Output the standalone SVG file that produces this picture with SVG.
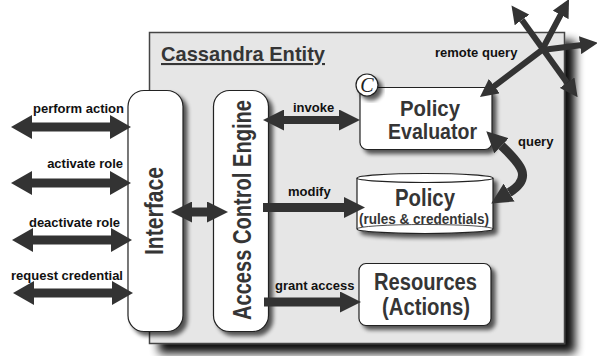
<svg xmlns="http://www.w3.org/2000/svg" width="597" height="356" viewBox="0 0 597 356">
<style>
.lbl{font-family:"Liberation Sans",Arial,sans-serif;font-weight:bold;font-size:13px;fill:#111}
.nt{font-family:"Liberation Sans",Arial,sans-serif;font-weight:bold;fill:#353535}
.box{fill:#fff;stroke:#222;stroke-width:1.2}
.arr{stroke:#333;fill:none}
</style>
<defs>
<filter id="bigsh" x="-10%" y="-10%" width="130%" height="130%">
<feGaussianBlur in="SourceAlpha" stdDeviation="5"/>
<feOffset dx="10" dy="9"/>
<feComponentTransfer><feFuncA type="linear" slope="0.95"/></feComponentTransfer>
<feMerge><feMergeNode/><feMergeNode in="SourceGraphic"/></feMerge>
</filter>
<filter id="sh" x="-20%" y="-20%" width="150%" height="150%">
<feGaussianBlur in="SourceAlpha" stdDeviation="2"/>
<feOffset dx="4" dy="4"/>
<feComponentTransfer><feFuncA type="linear" slope="0.65"/></feComponentTransfer>
<feMerge><feMergeNode/><feMergeNode in="SourceGraphic"/></feMerge>
</filter>
<marker id="ahL" viewBox="0 0 21 24" refX="0" refY="12" markerWidth="21" markerHeight="24" markerUnits="userSpaceOnUse" orient="auto-start-reverse"><path d="M0,0 L21,12 L0,24 z" fill="#333"/></marker>
<marker id="ahM" viewBox="0 0 21 21" refX="0" refY="10.5" markerWidth="21" markerHeight="21" markerUnits="userSpaceOnUse" orient="auto-start-reverse"><path d="M0,0 L21,10.5 L0,21 z" fill="#333"/></marker>
<marker id="ahS" viewBox="0 0 18 18" refX="0" refY="9" markerWidth="18" markerHeight="18" markerUnits="userSpaceOnUse" orient="auto-start-reverse"><path d="M0,0 L18,9 L0,18 z" fill="#333"/></marker>
</defs>

<g id="entity">
<rect x="149.5" y="32.5" width="415" height="311" fill="#e6e6e6" stroke="#444" stroke-width="1.5" filter="url(#bigsh)"/>
<text x="161" y="61" class="nt" font-size="21" textLength="164" lengthAdjust="spacingAndGlyphs" text-decoration="underline">Cassandra Entity</text>
</g>

<g id="interface">
<rect class="box" x="128" y="90.5" width="55" height="241" rx="16" filter="url(#sh)"/>
<text class="nt" font-size="25" text-anchor="middle" textLength="88" lengthAdjust="spacingAndGlyphs" transform="translate(163,211) rotate(-90)">Interface</text>
</g>

<g id="ace">
<rect class="box" x="213.5" y="90.5" width="55" height="241" rx="16" filter="url(#sh)"/>
<text class="nt" font-size="25" text-anchor="middle" textLength="220" lengthAdjust="spacingAndGlyphs" transform="translate(251,210) rotate(-90)">Access Control Engine</text>
</g>

<g id="policy-evaluator">
<rect class="box" x="360" y="87.5" width="132" height="62" rx="7" filter="url(#sh)"/>
<text class="nt" x="430" y="116" font-size="22" text-anchor="middle" textLength="60" lengthAdjust="spacingAndGlyphs">Policy</text>
<text class="nt" x="432.5" y="139" font-size="22" text-anchor="middle" textLength="89" lengthAdjust="spacingAndGlyphs">Evaluator</text>
<circle cx="367" cy="85" r="11" fill="#fff" stroke="#222" stroke-width="1.2" filter="url(#sh)"/>
<text x="367" y="92" font-family="Liberation Serif,serif" font-style="italic" font-size="20" text-anchor="middle" fill="#222">C</text>
</g>

<g id="policy">
<path d="M357,178 L357,229 A68,4.5 0 0 0 493,229 L493,178 A68,4.5 0 0 0 357,178 Z" class="box" filter="url(#sh)"/>
<path d="M357,178 A68,4.5 0 0 0 493,178" fill="none" stroke="#222" stroke-width="1.2"/>
<path d="M357,229 A68,4.5 0 0 1 493,229" fill="none" stroke="#222" stroke-width="0.8"/>
<text class="nt" x="425" y="206" font-size="24" text-anchor="middle" textLength="60" lengthAdjust="spacingAndGlyphs">Policy</text>
<text class="nt" x="424" y="224" font-size="14" text-anchor="middle" textLength="130" lengthAdjust="spacingAndGlyphs">(rules &amp; credentials)</text>
</g>

<g id="resources">
<rect class="box" x="359" y="263.5" width="132" height="62" rx="7" filter="url(#sh)"/>
<text class="nt" x="425.5" y="290" font-size="23" text-anchor="middle" textLength="103" lengthAdjust="spacingAndGlyphs">Resources</text>
<text class="nt" x="426" y="315" font-size="23" text-anchor="middle" textLength="88" lengthAdjust="spacingAndGlyphs">(Actions)</text>
</g>

<g id="connectors">
<line class="arr" x1="32" y1="127" x2="110" y2="127" stroke-width="9" marker-start="url(#ahL)" marker-end="url(#ahL)"/>
<line class="arr" x1="32" y1="183" x2="110" y2="183" stroke-width="9" marker-start="url(#ahL)" marker-end="url(#ahL)"/>
<line class="arr" x1="33" y1="240" x2="111" y2="240" stroke-width="9" marker-start="url(#ahL)" marker-end="url(#ahL)"/>
<line class="arr" x1="34" y1="293" x2="112" y2="293" stroke-width="9" marker-start="url(#ahL)" marker-end="url(#ahL)"/>
<line class="arr" x1="192" y1="212" x2="207" y2="212" stroke-width="9" marker-start="url(#ahM)" marker-end="url(#ahM)"/>
<line class="arr" x1="284" y1="120" x2="339" y2="120" stroke-width="8" marker-start="url(#ahM)" marker-end="url(#ahM)"/>
<line class="arr" x1="263" y1="207.5" x2="344" y2="207.5" stroke-width="9" marker-end="url(#ahM)"/>
<line class="arr" x1="264" y1="302" x2="340" y2="302" stroke-width="9" marker-end="url(#ahM)"/>
<path class="arr" d="M501.5,145.8 C521.8,165.1 533,178 509.1,192.6" stroke-width="9" marker-start="url(#ahM)" marker-end="url(#ahM)"/>
<line class="arr" x1="522" y1="20" x2="567.1" y2="82.7" stroke-width="6" marker-start="url(#ahS)" marker-end="url(#ahS)"/>
<line class="arr" x1="542" y1="50" x2="560.6" y2="14.9" stroke-width="6" stroke-linecap="round" marker-end="url(#ahS)"/>
<line class="arr" x1="542" y1="50" x2="580.1" y2="45.2" stroke-width="6" stroke-linecap="round" marker-end="url(#ahS)"/>
<line class="arr" x1="542" y1="50" x2="494.3" y2="86.1" stroke-width="6" stroke-linecap="round" marker-end="url(#ahS)"/>
</g>

<g id="labels">
<text class="lbl" x="124" y="113" text-anchor="end">perform action</text>
<text class="lbl" x="123" y="168" text-anchor="end">activate role</text>
<text class="lbl" x="120" y="227" text-anchor="end">deactivate role</text>
<text class="lbl" x="123" y="280" text-anchor="end">request credential</text>
<text class="lbl" x="293" y="112">invoke</text>
<text class="lbl" x="288" y="196">modify</text>
<text class="lbl" x="275" y="290">grant access</text>
<text class="lbl" x="435" y="57">remote query</text>
<text class="lbl" x="518" y="146">query</text>
</g>
</svg>
